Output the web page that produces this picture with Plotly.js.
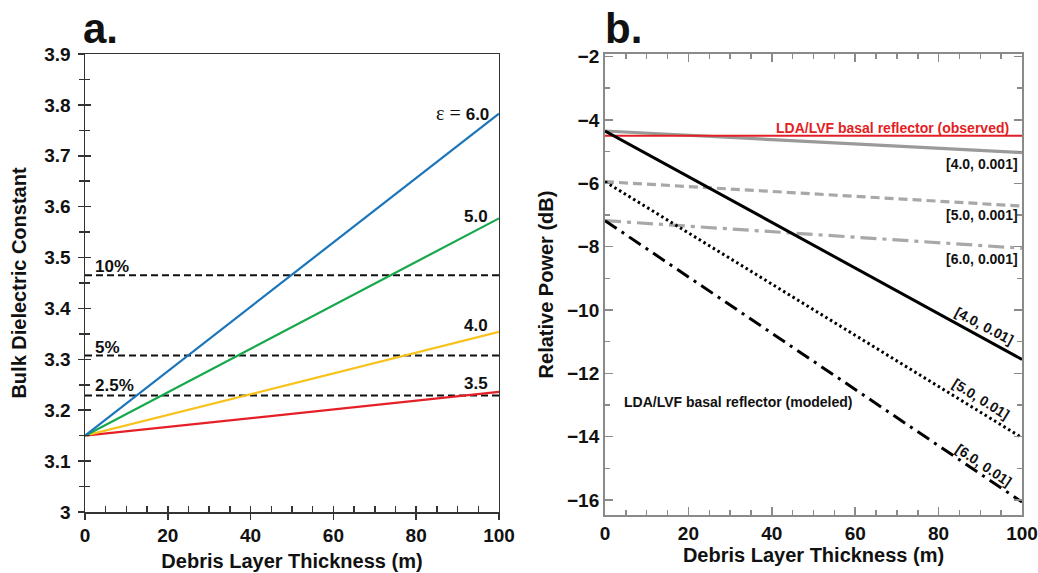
<!DOCTYPE html>
<html><head><meta charset="utf-8">
<script src="https://cdn.plot.ly/plotly-3.0.1.min.js"></script>
<style>body{margin:0;background:#fff}#chart{width:1038px;height:573px}</style>
</head><body><div id="chart"></div>
<script>
// ---- Panel a data ----
const thicknessA = [0, 100];
const eps60 = [3.15, 3.783];
const eps50 = [3.15, 3.577];
const eps40 = [3.15, 3.354];
const eps35 = [3.15, 3.236];
const thresholdValues = [3.465, 3.3075, 3.229];
const thresholdLabels = ['10%', '5%', '2.5%'];
const epsLabels = ['6.0', '5.0', '4.0', '3.5'];

// ---- Panel b data ----
const thicknessB = [0, 100];
const observed = [-4.5, -4.5];
const p40_001 = [-4.35, -5.03];
const p50_001 = [-5.95, -6.72];
const p60_001 = [-7.18, -8.05];
const p40_01 = [-4.35, -11.56];
const p50_01 = [-5.95, -14.03];
const p60_01 = [-7.18, -16.06];
const bLabels = ['[4.0, 0.001]', '[5.0, 0.001]', '[6.0, 0.001]', '[4.0, 0.01]', '[5.0, 0.01]', '[6.0, 0.01]'];

const FONT = 'Liberation Sans, Arial, Helvetica, sans-serif';
const traces = [];
function line(x, y, color, width, dash, xa, ya) {
  traces.push({x: x, y: y, type: 'scatter', mode: 'lines', xaxis: xa, yaxis: ya,
    line: {color: color, width: width, dash: dash || 'solid'}, hoverinfo: 'skip', showlegend: false});
}
// panel a thresholds
thresholdValues.forEach(v => line(thicknessA, [v, v], '#111', 2, '7px,4px', 'x', 'y'));
line(thicknessA, eps35, '#e41f26', 2.2, 'solid', 'x', 'y');
line(thicknessA, eps40, '#f7c21b', 2.2, 'solid', 'x', 'y');
line(thicknessA, eps50, '#17a84b', 2.2, 'solid', 'x', 'y');
line(thicknessA, eps60, '#1b75bb', 2.2, 'solid', 'x', 'y');
// overlay axes placeholders
traces.push({x: [null], y: [null], xaxis: 'x3', yaxis: 'y3', type: 'scatter', mode: 'markers', showlegend: false, hoverinfo: 'skip'});

// panel b
line(thicknessB, p40_001, '#9a9a9a', 3.2, 'solid', 'x2', 'y2');
line(thicknessB, p50_001, '#a8a8a8', 3.2, '9px,5px', 'x2', 'y2');
line(thicknessB, p60_001, '#a8a8a8', 3.2, '16px,6px,4px,6px', 'x2', 'y2');
line(thicknessB, observed, '#e31e24', 2, 'solid', 'x2', 'y2');
line(thicknessB, p40_01, '#000', 3, 'solid', 'x2', 'y2');
line(thicknessB, p50_01, '#000', 3, '2.5px,3px', 'x2', 'y2');
line(thicknessB, p60_01, '#000', 3, '14px,6px,3px,6px', 'x2', 'y2');

const tickFont = {family: FONT, size: 19, weight: 'bold', color: '#111'};
const titleFont = {family: FONT, size: 20, weight: 'bold', color: '#111'};
const annFont = {family: FONT, size: 17, weight: 'bold', color: '#111'};
const bFont = {family: FONT, size: 14, weight: 'bold', color: '#111'};

const annotations = [];
function ann(o) { annotations.push(Object.assign({showarrow: false, font: annFont}, o)); }

// panel letters
ann({text: 'a.', xref: 'paper', yref: 'paper', x: -0.004, y: 1.0, xanchor: 'left', yanchor: 'bottom', font: {family: FONT, size: 42, weight: 'bold', color: '#111'}});
ann({text: 'b.', xref: 'paper', yref: 'paper', x: 0.553, y: 1.0, xanchor: 'left', yanchor: 'bottom', font: {family: FONT, size: 42, weight: 'bold', color: '#111'}});

// panel a labels
ann({text: '<span style="font-family:Liberation Serif;font-weight:normal;font-size:20px">ε = </span>' + epsLabels[0], xref: 'x', yref: 'y', x: 98, y: 3.785, xanchor: 'right', yanchor: 'middle'});
ann({text: epsLabels[1], xref: 'x', yref: 'y', x: 97.8, y: 3.58, xanchor: 'right', yanchor: 'middle'});
ann({text: epsLabels[2], xref: 'x', yref: 'y', x: 97.8, y: 3.367, xanchor: 'right', yanchor: 'middle'});
ann({text: epsLabels[3], xref: 'x', yref: 'y', x: 97.8, y: 3.2535, xanchor: 'right', yanchor: 'middle'});
ann({text: thresholdLabels[0], xref: 'x', yref: 'y', x: 2.0, y: 3.483, xanchor: 'left', yanchor: 'middle'});
ann({text: thresholdLabels[1], xref: 'x', yref: 'y', x: 2.0, y: 3.323, xanchor: 'left', yanchor: 'middle'});
ann({text: thresholdLabels[2], xref: 'x', yref: 'y', x: 2.0, y: 3.248, xanchor: 'left', yanchor: 'middle'});

// panel b labels
ann({text: 'LDA/LVF basal reflector (observed)', xref: 'x2', yref: 'y2', x: 97.3, y: -4.24, xanchor: 'right', yanchor: 'middle', font: Object.assign({}, bFont, {color: '#e31e24'})});
ann({text: bLabels[0], xref: 'x2', yref: 'y2', x: 99.6, y: -5.39, xanchor: 'right', yanchor: 'middle', font: bFont});
ann({text: bLabels[1], xref: 'x2', yref: 'y2', x: 99.6, y: -7.01, xanchor: 'right', yanchor: 'middle', font: bFont});
ann({text: bLabels[2], xref: 'x2', yref: 'y2', x: 99.6, y: -8.39, xanchor: 'right', yanchor: 'middle', font: bFont});
ann({text: bLabels[3], xref: 'x2', yref: 'y2', x: 91.0, y: -10.52, xanchor: 'center', yanchor: 'middle', textangle: 28, font: bFont});
ann({text: bLabels[4], xref: 'x2', yref: 'y2', x: 90.2, y: -12.81, xanchor: 'center', yanchor: 'middle', textangle: 32, font: bFont});
ann({text: bLabels[5], xref: 'x2', yref: 'y2', x: 90.8, y: -14.89, xanchor: 'center', yanchor: 'middle', textangle: 34, font: bFont});
ann({text: 'LDA/LVF basal reflector (modeled)', xref: 'x2', yref: 'y2', x: 31.8, y: -12.9, xanchor: 'center', yanchor: 'middle', font: bFont});

const A_LINE = '#333', B_LINE = '#8a8a8a';
const layout = {
  width: 1038, height: 573,
  margin: {l: 85, r: 16, t: 54, b: 58},
  paper_bgcolor: '#fff', plot_bgcolor: 'rgba(0,0,0,0)',
  showlegend: false,
  xaxis: {domain: [0, 0.4418], range: [0, 100], anchor: 'y', tick0: 0, dtick: 20,
    ticks: 'outside', ticklen: 6, tickwidth: 1.5, tickcolor: A_LINE,
    showline: true, linecolor: A_LINE, linewidth: 1.5, mirror: true,
    showgrid: false, zeroline: false, tickfont: tickFont,
    title: {text: 'Debris Layer Thickness (m)', font: titleFont, standoff: 8}},
  xaxis3: {overlaying: 'x', anchor: 'y', range: [0, 100], tick0: 0, dtick: 20,
    ticks: 'inside', ticklen: 6, tickwidth: 1.5, tickcolor: A_LINE,
    minor: {tick0: 0, dtick: 5, ticks: 'inside', ticklen: 6, tickwidth: 1.5, tickcolor: A_LINE, showgrid: false},
    showticklabels: false, showline: false, showgrid: false, zeroline: false},
  yaxis: {domain: [0.0065, 1], range: [3, 3.9], anchor: 'x', tick0: 3, dtick: 0.1,
    ticks: 'outside', ticklen: 6, tickwidth: 1.5, tickcolor: A_LINE,
    minor: {tick0: 3, dtick: 0.05, ticks: 'outside', ticklen: 5, tickwidth: 1.5, tickcolor: A_LINE, showgrid: false},
    showline: true, linecolor: A_LINE, linewidth: 1.5, mirror: true,
    showgrid: false, zeroline: false, tickfont: tickFont, ticklabelstandoff: 3,
    title: {text: 'Bulk Dielectric Constant', font: titleFont, standoff: 12}},
  yaxis3: {overlaying: 'y', anchor: 'x', range: [3, 3.9], tick0: 3, dtick: 0.1,
    ticks: 'inside', ticklen: 6, tickwidth: 1.5, tickcolor: A_LINE,
    minor: {tick0: 3, dtick: 0.05, ticks: 'inside', ticklen: 5, tickwidth: 1.5, tickcolor: A_LINE, showgrid: false},
    showticklabels: false, showline: false, showgrid: false, zeroline: false},
  xaxis2: {domain: [0.555, 1], range: [0, 100], anchor: 'y2', tick0: 0, dtick: 20,
    ticks: 'inside', ticklen: 8, tickwidth: 1.5, tickcolor: B_LINE,
    minor: {tick0: 0, dtick: 5, ticks: 'inside', ticklen: 5, tickwidth: 1.5, tickcolor: B_LINE, showgrid: false},
    showline: true, linecolor: B_LINE, linewidth: 2, mirror: 'ticks',
    showgrid: false, zeroline: false, tickfont: tickFont,
    title: {text: 'Debris Layer Thickness (m)', font: titleFont, standoff: 2}},
  yaxis2: {domain: [0, 1], range: [-16.47, -1.92], anchor: 'x2', tick0: 0, dtick: 2,
    ticks: 'inside', ticklen: 8, tickwidth: 1.5, tickcolor: B_LINE,
    minor: {tick0: 0, dtick: 1, ticks: 'inside', ticklen: 5, tickwidth: 1.5, tickcolor: B_LINE, showgrid: false},
    showline: true, linecolor: B_LINE, linewidth: 2, mirror: 'ticks',
    showgrid: false, zeroline: false, tickfont: tickFont,
    title: {text: 'Relative Power (dB)', font: titleFont, standoff: 8}},
  annotations: annotations
};
Plotly.newPlot('chart', traces, layout, {staticPlot: true, displayModeBar: false});
</script>
</body></html>
